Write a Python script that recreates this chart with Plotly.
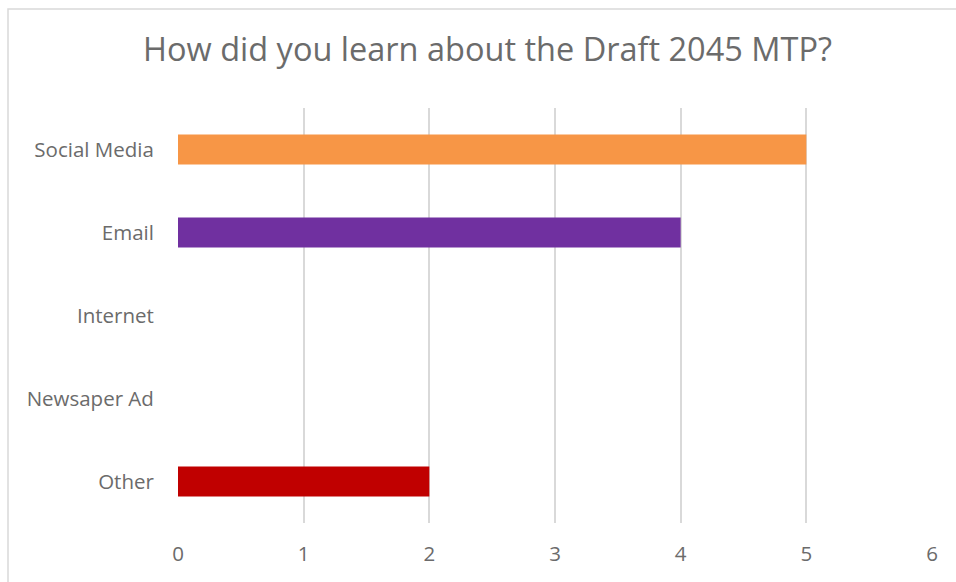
import plotly.graph_objects as go

categories = ["Social Media", "Email", "Internet", "Newsaper Ad", "Other"]
values = [5, 4, 0, 0, 2]
colors = ["#F79646", "#7030A0", "#4BACC6", "#9BBB59", "#C00000"]
x_ticks = [0, 1, 2, 3, 4, 5, 6]

FONT = "Open Sans"
GRAY = "#6B6B6B"

fig = go.Figure(go.Bar(
    x=values, y=categories, orientation="h",
    marker=dict(color=colors, line=dict(width=0)),
    width=0.36,
))

L, R, T, B = 178, 24, 108, 59
W, H = 956, 582
pw, ph = W - L - R, H - T - B

fig.update_layout(
    width=W, height=H,
    margin=dict(l=L, r=R, t=T, b=B),
    paper_bgcolor="white", plot_bgcolor="white",
    showlegend=False,
    title=dict(text="How did you learn about the Draft 2045 MTP?",
               x=0.51, xanchor="center", y=1 - 50 / H, yanchor="middle",
               font=dict(family=FONT, size=32.5, color=GRAY)),
    xaxis=dict(range=[0, 6], tickvals=x_ticks, showgrid=True,
               gridcolor="#D9D9D9", gridwidth=1.6, zeroline=False,
               showline=False, ticks="outside", ticklen=12, tickcolor="white",
               tickfont=dict(family=FONT, size=20.5, color=GRAY)),
    yaxis=dict(categoryorder="array", categoryarray=categories,
               autorange="reversed", showgrid=False, zeroline=False,
               showline=False, ticks="outside", ticklen=19, tickcolor="white",
               tickfont=dict(family=FONT, size=20.5, color=GRAY)),
    shapes=[dict(type="rect", xref="paper", yref="paper",
                 x0=(8 - L) / pw, x1=(W + 20 - L) / pw,
                 y0=-(B + 20) / ph, y1=1 + (T - 9) / ph,
                 line=dict(color="#D9D9D9", width=1.5), layer="below")],
)

fig.write_html("out.html")
